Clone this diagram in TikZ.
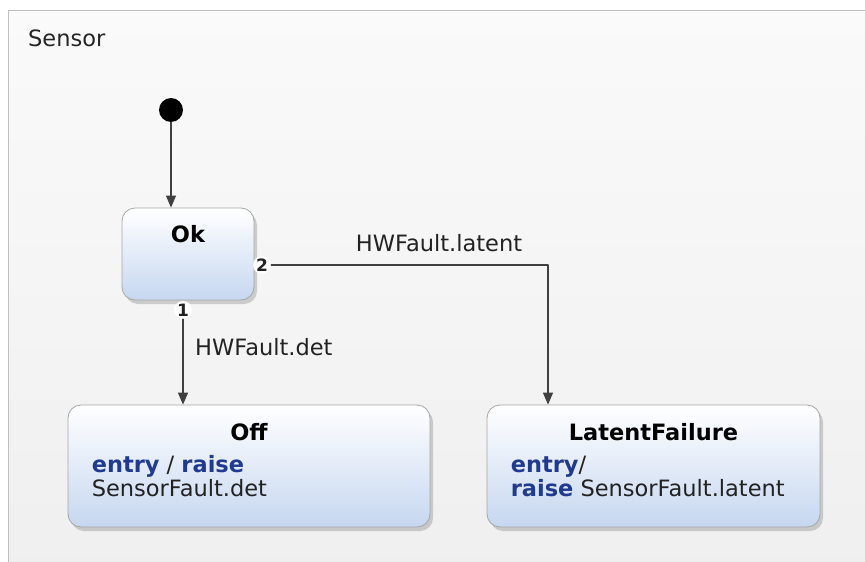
\documentclass[tikz,border=0pt]{standalone}
\usepackage{fontspec}
\setmainfont{DejaVu Sans}
\usetikzlibrary{calc,shadows,arrows.meta}

\definecolor{kwblue}{HTML}{1F3A8F}
\definecolor{inkgray}{HTML}{222222}
\definecolor{wiregray}{HTML}{404040}
\definecolor{edgegray}{HTML}{A6A6A6}
\definecolor{stateblue}{HTML}{C6D7F0}
\definecolor{regiontop}{HTML}{FAFAFA}
\definecolor{regionbot}{HTML}{EFEFEF}

\newcommand{\diagfont}{\fontsize{22.5}{26}\selectfont}
\newcommand{\kw}[1]{\textcolor{kwblue}{\textbf{#1}}}

\tikzset{
  statebox/.style={draw=edgegray, line width=0.8pt, rounded corners=13pt,
    top color=white, bottom color=stateblue, inner sep=0pt,
    drop shadow={shadow xshift=3pt, shadow yshift=-4pt, opacity=0.35}},
  stitle/.style={anchor=base, inner sep=0pt, font=\diagfont\bfseries, text=black},
  sline/.style={anchor=base west, inner sep=0pt, font=\diagfont, text=inkgray},
  tlabel/.style={anchor=base, inner sep=0pt, font=\diagfont, text=inkgray},
  trans/.style={draw=wiregray, line width=1.3pt, -{Triangle[length=12pt,width=10pt]}},
  badge/.style={circle, fill=white, inner sep=0pt, minimum size=18pt,
    font=\fontsize{17}{17}\selectfont\bfseries, text=inkgray}
}

\begin{document}
\begin{tikzpicture}[x=1pt,y=-1pt,line cap=round,line join=round]
  \useasboundingbox (0,0) rectangle (865,562);
  \clip (0,0) rectangle (865,562);
  \draw[draw=gray!50, line width=1pt, top color=regiontop, bottom color=regionbot]
    (8,10) rectangle (880,580);
  \node[sline, text=black!85] (region) at (28,46) {Sensor};

  \node[circle, fill=black, minimum size=24pt, inner sep=0pt] (init) at (171,110) {};
  \node[statebox, minimum width=132pt, minimum height=92pt] (ok) at (188,254) {};
  \node[statebox, minimum width=362pt, minimum height=122pt] (off) at (249,466) {};
  \node[statebox, minimum width=333pt, minimum height=122pt] (latent) at (653.5,466) {};

  \node[stitle] (okname) at ($(ok.north)+(0,35)$) {Ok};
  \node[stitle] (offname) at ($(off.north)+(0,36)$) {Off};
  \node[stitle] (latentname) at ($(latent.north)+(0,36)$) {LatentFailure};
  \node[sline] (offentry) at ($(off.north west)+(24,68)$) {\kw{entry} / \kw{raise}};
  \node[sline] (offraise) at ($(off.north west)+(24,92)$) {SensorFault.det};
  \node[sline] (latententry) at ($(latent.north west)+(24,68)$) {\kw{entry}/};
  \node[sline] (latentraise) at ($(latent.north west)+(24,92)$) {\kw{raise} SensorFault.latent};

  \node[badge] (b2) at (262,265) {2};
  \node[badge] (b1) at (183,310) {1};
  \coordinate (turn) at (548,265);

  \draw[trans] (init) -- (init |- ok.north);
  \draw[trans] (b1) -- (b1 |- off.north);
  \draw[trans] (b2) -- (turn) -- (turn |- latent.north);

  \node[tlabel] (latentlbl) at (439,251) {HWFault.latent};
  \node[tlabel, anchor=base west] (detlbl) at (195,355) {HWFault.det};
\end{tikzpicture}
\end{document}
